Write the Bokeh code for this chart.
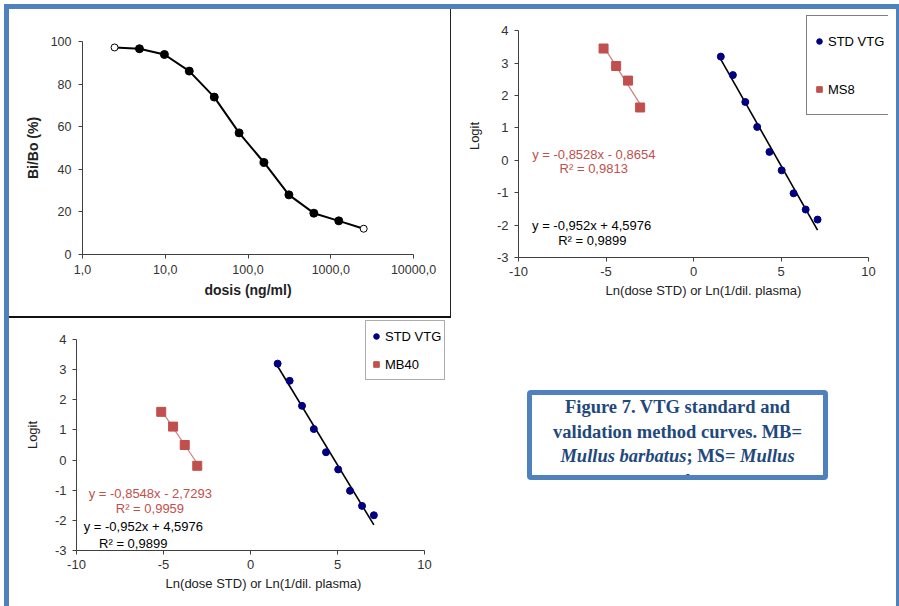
from bokeh.plotting import figure
from bokeh.layouts import row, column
from bokeh.models import Div, Spacer, FixedTicker, Label, Legend, LegendItem
from bokeh.embed import file_html
from bokeh.resources import INLINE

# ---------------- data ----------------
# Panel A: competitive ELISA standard curve
dose_ng_ml = [2.44, 4.88, 9.77, 19.5, 39.1, 78.1, 156.0, 312.0, 625.0, 1250.0, 2500.0]
bi_bo_pct = [97.2, 96.6, 93.9, 86.1, 73.9, 57.1, 43.2, 28.0, 19.4, 15.8, 12.1]
dose_ticks = [1, 10, 100, 1000, 10000]
dose_tick_labels = ["1,0", "10,0", "100,0", "1000,0", "10000,0"]
bibo_ticks = [0, 20, 40, 60, 80, 100]
bibo_tick_labels = ["0", "20", "40", "60", "80", "100"]

# Panels B and C: logit-log transformation
std_ln = [1.56, 2.25, 2.96, 3.64, 4.34, 5.04, 5.72, 6.41, 7.09]
std_logit = [3.20, 2.63, 1.80, 1.03, 0.26, -0.31, -1.02, -1.52, -1.83]
ms8_ln = [-5.14, -4.42, -3.74, -3.05]
ms8_logit = [3.45, 2.91, 2.46, 1.63]
mb40_ln = [-5.13, -4.45, -3.78, -3.06]
mb40_logit = [1.60, 1.11, 0.50, -0.19]
std_fit = (-0.952, 4.5976)
ms8_fit = (-0.8528, -0.8654)
mb40_fit = (-0.8548, -2.7293)
std_eq = ["y = -0,952x + 4,5976", "R\u00b2 = 0,9899"]
ms8_eq = ["y = -0,8528x - 0,8654", "R\u00b2 = 0,9813"]
mb40_eq = ["y = -0,8548x - 2,7293", "R\u00b2 = 0,9959"]
logit_x_ticks = [-10, -5, 0, 5, 10]
logit_x_labels = ["-10", "-5", "0", "5", "10"]
logit_y_ticks = [-3, -2, -1, 0, 1, 2, 3, 4]
logit_y_labels = ["-3", "-2", "-1", "0", "1", "2", "3", "4"]

FONT = "Liberation Sans"
BLUE = "#4F81BD"
NAVY = "#000080"
RED = "#C0504D"


def base_style(p, tick_size, title_size, title_style, axis_color="#404040"):
    p.grid.visible = False
    p.outline_line_color = None
    p.background_fill_color = "white"
    p.border_fill_color = "white"
    for ax in (p.xaxis[0], p.yaxis[0]):
        ax.axis_line_color = axis_color
        ax.axis_line_width = 1
        ax.major_tick_line_color = axis_color
        ax.major_tick_out = 4
        ax.major_tick_in = 0
        ax.minor_tick_line_color = None
        ax.major_label_text_font = FONT
        ax.major_label_text_font_size = tick_size
        ax.major_label_text_color = "#333333"
        ax.axis_label_text_font = FONT
        ax.axis_label_text_font_size = title_size
        ax.axis_label_text_font_style = title_style
        ax.axis_label_text_color = "#222222"


# ---------------- panel A ----------------
p1 = figure(width=441, height=307, x_axis_type="log", x_range=(1, 10000), y_range=(0, 100),
            output_backend="svg", toolbar_location=None, margin=0,
            min_border_left=73, min_border_right=37, min_border_top=32, min_border_bottom=62)
base_style(p1, "12.5px", "14px", "bold")
p1.xaxis.ticker = FixedTicker(ticks=dose_ticks)
p1.xaxis.major_label_overrides = {float(t): l for t, l in zip(dose_ticks, dose_tick_labels)}
p1.yaxis.ticker = FixedTicker(ticks=bibo_ticks)
p1.yaxis.major_label_overrides = {float(t): l for t, l in zip(bibo_ticks, bibo_tick_labels)}
p1.xaxis.axis_label = "dosis (ng/ml)"
p1.yaxis.axis_label = "Bi/Bo (%)"
p1.xaxis.major_label_standoff = 6
p1.xaxis.axis_label_standoff = 5
p1.yaxis.major_label_standoff = 7
p1.yaxis.axis_label_standoff = 7
p1.line(dose_ng_ml, bi_bo_pct, line_color="black", line_width=2)
p1.scatter(dose_ng_ml[1:-1], bi_bo_pct[1:-1], marker="circle", size=8,
           fill_color="black", line_color="black")
p1.scatter([dose_ng_ml[0], dose_ng_ml[-1]], [bi_bo_pct[0], bi_bo_pct[-1]], marker="circle",
           size=7, fill_color="white", line_color="black", line_width=1)


# ---------------- panels B / C ----------------
def logit_panel(width, height, borders, px_x, px_y, s_x, s_y, s_name, s_fit, s_eq, eq_pos,
                leg_loc, leg_item_h, leg_pad, leg_spacing, leg_border):
    # frame is wider/taller than the axes (axes are bounded) so the legend can sit inside it
    bl, br, bt, bb = borders
    fw = width - bl - br
    fh = height - bt - bb
    p = figure(width=width, height=height,
               x_range=(-10, -10 + fw / px_x), y_range=(-3, -3 + fh / px_y),
               output_backend="svg", toolbar_location=None, margin=0,
               min_border_left=bl, min_border_right=br, min_border_top=bt, min_border_bottom=bb)
    base_style(p, "13px", "13px", "normal")
    p.xaxis.bounds = (logit_x_ticks[0], logit_x_ticks[-1])
    p.yaxis.bounds = (logit_y_ticks[0], logit_y_ticks[-1])
    p.xaxis.ticker = FixedTicker(ticks=logit_x_ticks)
    p.xaxis.major_label_overrides = {float(t): l for t, l in zip(logit_x_ticks, logit_x_labels)}
    p.yaxis.ticker = FixedTicker(ticks=logit_y_ticks)
    p.yaxis.major_label_overrides = {float(t): l for t, l in zip(logit_y_ticks, logit_y_labels)}
    p.xaxis.axis_label = "Ln(dose STD) or Ln(1/dil. plasma)"
    p.yaxis.axis_label = "Logit"
    p.xaxis.major_label_standoff = 5
    p.xaxis.axis_label_standoff = 4
    p.yaxis.major_label_standoff = 6
    p.yaxis.axis_label_standoff = 12

    # trend lines over the data extent
    sx = [min(std_ln), max(std_ln)]
    p.line(sx, [std_fit[0] * v + std_fit[1] for v in sx], line_color="black", line_width=1.6)
    mx = [min(s_x), max(s_x)]
    p.line(mx, [s_fit[0] * v + s_fit[1] for v in mx], line_color=RED, line_alpha=0.75, line_width=1.2)

    r_std = p.scatter(std_ln, std_logit, marker="circle", size=7, fill_color=NAVY, line_color=NAVY)
    r_s = p.scatter(s_x, s_y, marker="square", size=9, fill_color=RED, line_color=RED)

    (rx1, ry1), (rx2, ry2), (bx1, by1), (bx2, by2) = eq_pos
    for (x, y, t, c) in [(rx1, ry1, s_eq[0], RED), (rx2, ry2, s_eq[1], RED),
                         (bx1, by1, std_eq[0], "black"), (bx2, by2, std_eq[1], "black")]:
        p.add_layout(Label(x=x, y=y, text=t, text_align="center", text_baseline="middle",
                           text_font=FONT, text_font_size="13px", text_color=c))

    leg = Legend(items=[LegendItem(label="STD VTG", renderers=[r_std]),
                        LegendItem(label=s_name, renderers=[r_s])],
                 location=leg_loc, orientation="vertical", margin=0,
                 padding=leg_pad, spacing=leg_spacing,
                 glyph_width=14, glyph_height=leg_item_h, label_height=leg_item_h,
                 label_standoff=2, label_width=20,
                 border_line_color=leg_border, border_line_width=1,
                 background_fill_color="white", background_fill_alpha=1,
                 label_text_font=FONT, label_text_font_size="13px", label_text_color="black")
    p.add_layout(leg)
    return p


p2 = logit_panel(445, 309, (67, 8, 5, 61), 17.5, 32.4, ms8_ln, ms8_logit, "MS8", ms8_fit, ms8_eq,
                 [(-5.70, 0.17), (-5.70, -0.26), (-5.82, -2.02), (-5.78, -2.48)],
                 (288, 142), 40, 5, 8, "black")
p3 = logit_panel(442, 288, (67, 1, 1, 56), 17.4, 30.14, mb40_ln, mb40_logit, "MB40", mb40_fit, mb40_eq,
                 [(-5.76, -1.11), (-5.78, -1.61), (-6.16, -2.20), (-6.74, -2.77)],
                 (289, 170), 24, 3, 4, "#595959")

caption_html = (
    '<div style="padding:72px 0 0 76px;">'
    '<div style="box-sizing:border-box;width:301px;height:90px;border:5px solid #4F81BD;'
    'border-radius:4px;overflow:hidden;background:#ffffff;white-space:nowrap;'
    "font-family:'Liberation Serif',serif;font-weight:bold;font-size:18.5px;line-height:24.5px;"
    'color:#1F497D;text-align:center;">'
    'Figure 7. VTG standard and<br>validation method curves. MB=<br>'
    '<i>Mullus barbatus</i>; MS= <i>Mullus</i><br><i>surmuletus</i>'
    '</div></div>'
)
caption = Div(text=caption_html, width=445, height=288, margin=0)


def bar(w, h, color):
    return Div(text="", width=w, height=h, margin=0, styles={"background-color": color})


def gap(w, h):
    return Spacer(width=w, height=h, margin=0)


left_top = column(row(p1, bar(1, 307, "#222222"), spacing=0, margin=0),
                  bar(442, 2, "#111111"), spacing=0, margin=0)
body = column(row(left_top, p2, spacing=0, margin=0),
              row(p3, caption, spacing=0, margin=0), spacing=0, margin=0)
root = column(
    gap(899, 4),
    row(gap(4, 5), bar(895, 5, BLUE), spacing=0, margin=0),
    row(gap(4, 597), bar(5, 597, BLUE), body, bar(3, 597, BLUE), spacing=0, margin=0),
    spacing=0, margin=0,
)

template = ("{% block postamble %}<style>html, body { margin: 0 !important; "
            "padding: 0 !important; overflow: hidden; }</style>{% endblock %}")
open("out.html", "w").write(file_html(root, INLINE, template=template))
